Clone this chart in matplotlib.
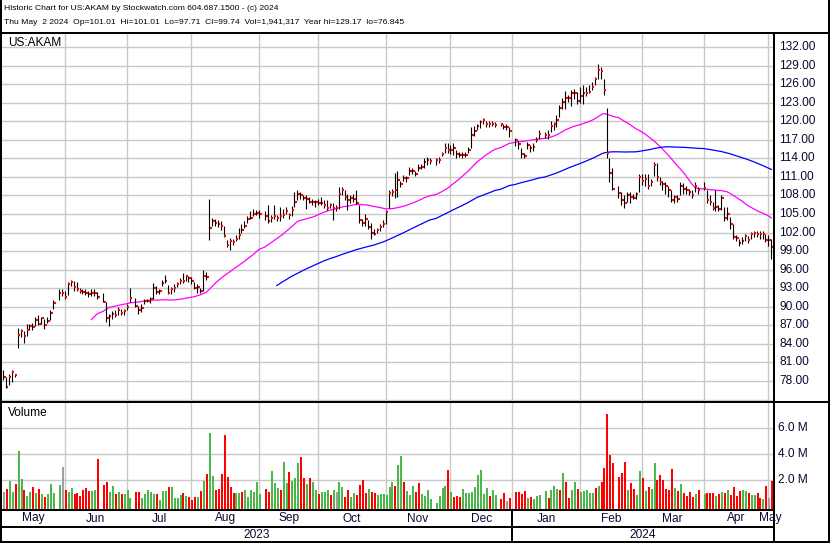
import numpy as np
import pandas as pd
import matplotlib
matplotlib.use("Agg")
import matplotlib.pyplot as plt
from matplotlib import font_manager
from matplotlib.lines import Line2D
from matplotlib.transforms import blended_transform_factory as blend

# ---------------- data ----------------
start_date = "2023-05-03"
end_date = "2024-05-02"
holidays = ["2023-05-29", "2023-06-19", "2023-07-04", "2023-09-04", "2023-11-23",
            "2023-12-25", "2024-01-01", "2024-01-15", "2024-02-19", "2024-03-29"]

close = [
    # May 2023
    78.6, 77.1, 78.6, 79.4, 78.9, 85.4, 86.0, 85.3, 86.2, 86.9, 86.7, 87.8, 87.2, 88.1, 87.1, 87.7, 89.0, 90.6, 92.2, 92.2,
    # Jun
    91.5, 93.7, 94.0, 93.2, 92.9, 92.5, 92.4, 92.2, 92.0, 92.2, 92.3, 91.5, 90.8, 88.1, 88.5, 88.9, 88.6, 89.4, 89.0, 89.3, 89.9,
    # Jul
    91.4, 90.2, 89.5, 89.8, 90.9, 91.0, 91.2, 93.1, 92.4, 92.5, 93.8, 94.1, 92.2, 92.9, 93.0, 93.7, 94.2, 94.1, 95.0, 94.6,
    # Aug
    94.2, 93.0, 93.2, 92.5, 95.0, 94.8, 102.8, 103.8, 103.6, 103.3, 103.0, 101.5, 100.0, 100.7, 100.4, 101.0, 101.6, 102.4, 103.1, 104.2, 104.4, 105.0, 105.2,
    # Sep
    105.0, 104.7, 103.9, 104.3, 104.7, 104.4, 104.7, 104.8, 105.4, 104.8, 105.6, 106.9, 108.3, 108.1, 107.6, 107.4, 107.0, 107.0, 106.9, 106.8,
    # Oct
    106.8, 106.5, 106.0, 106.4, 105.9, 106.0, 108.3, 108.8, 107.8, 107.2, 107.6, 107.5, 106.8, 104.0, 103.5, 104.2, 102.9, 102.0, 101.8, 102.4, 102.9, 103.4,
    # Nov
    105.3, 108.4, 108.5, 108.9, 110.5, 109.9, 110.8, 110.8, 112.0, 112.0, 111.4, 112.5, 112.6, 113.4, 113.8, 113.5, 113.7, 113.7, 114.7, 115.6, 115.3,
    # Dec
    115.3, 115.6, 114.7, 114.6, 114.5, 114.6, 115.3, 117.7, 118.4, 119.2, 119.8, 120.2, 119.5, 119.5, 119.6, 119.4, 119.5, 119.1, 119.0, 118.4,
    # Jan 2024
    116.9, 116.3, 114.7, 114.4, 116.2, 115.7, 115.8, 117.0, 118.0, 117.8, 117.7, 119.3, 119.5, 120.2, 122.1, 123.1, 123.8, 123.8, 124.6, 124.6, 123.2,
    # Feb
    124.1, 124.5, 124.6, 124.8, 125.6, 126.8, 128.3, 128.1, 125.0, 114.8, 111.6, 109.1, 108.4, 107.2, 106.8, 108.1, 107.8, 107.6, 108.2, 110.9,
    # Mar
    110.3, 110.7, 109.5, 110.2, 112.9, 110.9, 110.2, 109.9, 109.5, 108.9, 107.2, 107.8, 107.5, 109.6, 109.1, 108.9, 108.5, 108.0, 109.6, 108.8,
    # Apr
    109.2, 107.3, 107.0, 106.0, 106.1, 105.8, 107.6, 104.4, 105.0, 103.4, 101.3, 101.1, 100.3, 100.7, 101.5, 100.8, 101.8, 102.0, 101.8, 101.7, 101.8, 100.8,
    # May 2024
    100.8, 99.74,
]

high = [
    79.8, 78.6, 79.2, 79.7, 79.2, 86.6, 86.4, 86.1, 87.2, 87.2, 87.3, 88.3, 88.6, 88.4, 88.0, 88.3, 89.5, 91.1, 92.9, 92.9,
    92.5, 94.0, 94.3, 94.1, 94.0, 93.1, 92.9, 92.8, 92.6, 92.9, 92.9, 92.4, 92.2, 90.7, 88.9, 89.3, 89.4, 89.9, 89.6, 89.6, 90.4,
    93.1, 91.4, 90.2, 90.5, 91.2, 91.3, 91.6, 93.8, 93.4, 92.9, 94.4, 95.2, 93.5, 93.2, 93.6, 94.0, 94.6, 95.4, 95.2, 94.9,
    94.8, 94.0, 93.6, 93.1, 95.9, 95.6, 107.5, 104.4, 104.2, 104.0, 103.9, 103.0, 100.8, 101.1, 101.0, 101.6, 102.8, 103.3, 103.9, 104.6, 105.4, 105.8, 105.6,
    105.6, 105.5, 106.5, 104.8, 106.4, 104.9, 106.1, 105.8, 106.2, 105.2, 106.3, 108.6, 108.9, 108.5, 108.1, 108.0, 107.8, 107.5, 107.3, 107.4,
    107.8, 107.2, 107.2, 106.8, 106.7, 106.4, 109.4, 109.4, 108.8, 108.3, 108.0, 108.3, 108.8, 106.5, 104.2, 105.0, 104.0, 103.5, 102.5, 102.8, 103.4, 104.0,
    105.6, 108.8, 109.0, 111.7, 112.0, 110.4, 111.3, 111.2, 112.6, 112.4, 112.0, 113.0, 113.1, 114.0, 114.2, 114.0, 114.0, 114.2, 115.1, 116.4, 116.4,
    116.1, 116.4, 115.4, 115.1, 115.0, 115.0, 115.8, 119.0, 119.3, 119.6, 120.2, 120.5, 120.0, 120.0, 120.0, 119.9, 119.7, 119.6, 119.5, 119.0,
    117.3, 116.8, 115.6, 114.8, 116.6, 116.1, 116.4, 117.4, 118.5, 118.3, 118.5, 120.1, 119.9, 121.0, 122.6, 123.8, 124.9, 124.2, 125.0, 125.2, 124.8,
    125.6, 125.9, 125.6, 125.9, 126.4, 127.2, 129.17, 128.7, 126.9, 122.1, 114.0, 112.4, 109.6, 108.6, 108.0, 108.6, 108.6, 108.3, 108.6, 111.4,
    111.5, 111.5, 111.4, 110.6, 113.4, 113.3, 110.9, 110.4, 110.1, 109.5, 108.8, 108.1, 108.1, 110.1, 110.0, 109.6, 109.0, 108.8, 110.2, 109.4,
    110.2, 108.9, 108.1, 107.0, 108.9, 106.4, 108.1, 106.1, 106.2, 104.5, 103.3, 101.6, 101.0, 101.3, 101.8, 101.4, 102.1, 102.3, 102.3, 102.3, 102.2, 101.7,
    101.6, 101.01,
]

low = [
    78.2, 76.845, 77.3, 77.9, 78.6, 83.3, 85.1, 84.2, 85.3, 86.3, 86.2, 86.9, 87.0, 87.2, 86.4, 87.3, 87.8, 89.6, 91.1, 91.7,
    91.3, 91.9, 93.4, 92.6, 92.6, 92.3, 92.0, 91.9, 91.5, 91.8, 91.8, 91.3, 90.7, 87.6, 86.9, 88.0, 88.3, 88.6, 88.6, 88.6, 89.4,
    90.8, 90.0, 88.9, 89.1, 90.5, 90.7, 90.6, 91.3, 92.1, 92.1, 93.3, 93.8, 92.1, 92.1, 92.4, 93.2, 93.7, 93.9, 94.2, 94.0,
    93.6, 92.8, 92.3, 92.2, 92.5, 94.4, 100.8, 103.0, 103.1, 102.9, 102.4, 101.3, 99.6, 99.1, 100.0, 100.6, 101.0, 102.0, 102.8, 103.6, 104.2, 104.6, 104.8,
    104.3, 104.1, 103.5, 103.7, 104.2, 103.9, 103.8, 104.4, 105.0, 104.2, 104.6, 106.2, 107.2, 107.4, 107.2, 105.8, 106.7, 106.4, 106.2, 106.5,
    106.4, 106.0, 105.6, 105.9, 104.0, 105.5, 105.8, 108.0, 107.2, 105.6, 106.8, 106.9, 106.6, 103.6, 103.1, 103.1, 102.6, 101.0, 101.6, 101.9, 102.3, 102.9,
    103.3, 105.9, 107.9, 107.6, 107.7, 109.4, 110.3, 110.2, 111.3, 111.4, 111.2, 111.9, 112.2, 112.5, 112.9, 113.0, 112.9, 113.3, 114.3, 114.8, 114.8,
    114.7, 114.6, 114.1, 114.2, 114.0, 114.2, 114.9, 115.7, 117.6, 118.6, 118.9, 119.6, 119.0, 119.1, 119.2, 119.0, 119.2, 118.7, 118.6, 117.4,
    116.0, 115.5, 114.0, 114.0, 115.5, 115.1, 115.2, 116.6, 117.2, 117.3, 117.2, 118.2, 118.6, 119.0, 120.6, 121.9, 122.0, 123.1, 122.5, 123.6, 122.8,
    122.9, 122.7, 124.0, 124.5, 125.0, 125.8, 126.9, 126.9, 124.3, 114.0, 110.2, 108.9, 107.6, 106.5, 106.0, 107.0, 106.7, 107.4, 107.5, 108.6,
    109.7, 109.6, 109.1, 109.6, 111.2, 110.4, 109.7, 108.8, 108.2, 107.8, 106.9, 106.8, 107.0, 108.0, 108.3, 108.3, 108.0, 107.6, 108.6, 108.3,
    108.8, 106.8, 106.5, 105.7, 105.4, 105.4, 105.7, 103.9, 104.1, 102.6, 100.9, 100.6, 99.9, 100.2, 100.6, 100.3, 101.0, 101.3, 101.2, 100.9, 100.9, 100.5,
    99.9, 97.71,
]

# volume in millions
volume = [
    1.13, 1.3, 1.95, 1.13, 1.72, 4.26, 2.1, 1.26, 0.8, 1.1, 1.46, 1.05, 1.33, 0.95, 0.72, 0.95, 1.72, 1.03, 1.64, 3.03,
    1.26, 1.1, 1.41, 0.95, 1.03, 0.8, 1.26, 1.41, 1.2, 1.2, 1.26, 3.64, 1.64, 1.87, 1.1, 1.56, 0.95, 1.1, 0.95, 0.95, 1.26,
    0.64, 1.1, 1.1, 0.64, 0.95, 1.26, 1.1, 0.95, 0.95, 0.49, 1.18, 1.18, 1.49, 1.49, 0.64, 0.64, 0.87, 1.03, 0.8, 0.72,
    0.49, 0.72, 0.72, 1.2, 1.95, 2.49, 5.64, 2.33, 1.26, 1.33, 2.49, 5.49, 2.26, 1.49, 1.03, 1.03, 1.03, 1.1, 1.26, 0.72, 1.26, 1.1, 1.87,
    0.95, 1.33, 1.1, 2.72, 1.79, 1.41, 1.26, 3.41, 1.79, 2.64, 1.95, 2.18, 3.33, 3.79, 2.18, 1.72, 2.18, 1.87, 1.26, 0.95,
    1.1, 1.1, 1.26, 0.87, 1.26, 1.1, 1.87, 1.49, 0.72, 1.26, 0.72, 1.03, 0.87, 1.64, 2.03, 1.03, 1.33, 1.1, 1.03, 0.87, 0.95, 0.95,
    0.87, 1.49, 1.87, 1.56, 3.18, 3.87, 1.87, 1.18, 0.87, 1.56, 1.1, 1.79, 0.95, 0.8, 1.26, 0.56, 0.26, 0.8, 1.41, 1.56, 2.8,
    1.1, 0.72, 0.8, 0.72, 1.33, 1.03, 1.03, 1.1, 1.49, 2.41, 2.8, 0.95, 1.41, 0.8, 1.26, 0.87, 0.56, 1.03, 0.41, 0.64,
    1.1, 1.1, 0.95, 1.18, 0.64, 0.72, 0.56, 0.8, 0.87, 1.18, 0.64, 1.26, 1.56, 1.33, 1.26, 2.56, 1.87, 0.64, 1.26, 1.87, 1.33,
    1.1, 1.18, 1.26, 1.03, 1.03, 1.41, 1.56, 1.87, 2.95, 7.1, 3.95, 3.33, 2.26, 2.56, 3.41, 1.26, 1.79, 1.33, 0.87, 2.72,
    2.18, 1.18, 1.49, 1.33, 3.33, 2.03, 2.41, 2.03, 1.33, 1.26, 2.87, 1.41, 1.18, 1.72, 1.03, 0.8, 1.1, 0.72, 0.95, 1.26,
    0.95, 1.03, 1.03, 1.03, 0.8, 0.95, 1.1, 1.03, 1.26, 0.87, 1.49, 0.8, 1.18, 1.26, 1.18, 1.03, 0.87, 0.87, 1.03, 0.64, 0.56, 1.56,
    0.64, 1.941317,
]

# day direction: g = up, r = down, n = unchanged
direction = ("nrggrggrggrgrgrggggn"
             "rggrrrrrrggrrrggrgrgg"
             "grrgggggrgggrggggrgr"
             "rrgrgrggrrrrrrrggrggggg"
             "grrgggrggrgggrrgrggr"
             "gggrgnggrrggrrrrgrrggg"
             "gggrggrgggrrggggggggr"
             "grrrgggggggggrggrrnr"
             "rrrrgrggggrgggrgrrggr"
             "gggggrgrrrrrrrrgrrgg"
             "rgrggrrrrrrgrgrrrrgr"
             "grrrgrgrgrrrrggrggrrgr"
             "nr")

price_ticks = list(range(78, 133, 3))
volume_ticks = [2, 4, 6]
month_names = ["May", "Jun", "Jul", "Aug", "Sep", "Oct", "Nov", "Dec",
               "Jan", "Feb", "Mar", "Apr", "May"]
header1 = "Historic Chart for US:AKAM by Stockwatch.com 604.687.1500 - (c) 2024"
header2 = ("Thu May  2 2024  Op=101.01  Hi=101.01  Lo=97.71  Cl=99.74  "
           "Vol=1,941,317  Year hi=129.17  lo=76.845")

# ---------------- setup ----------------
weekdays = pd.bdate_range(start_date, end_date)
trade_days = weekdays[~weekdays.isin(pd.to_datetime(holidays))]
n = len(trade_days)
assert len(close) == n and len(high) == n and len(low) == n, (len(close), len(high), len(low), n)
assert len(volume) == n and len(direction) == n, (len(volume), len(direction))
xs = weekdays.get_indexer(trade_days).astype(float)

close_a = np.array(close)
ma30 = pd.Series(close_a).rolling(30).mean().values
ma90 = pd.Series(close_a).rolling(90).mean().values

avail = {f.name for f in font_manager.fontManager.ttflist}
SANS = "Liberation Sans" if "Liberation Sans" in avail else "DejaVu Sans"
if "Liberation Sans Narrow" in avail:
    NARROW, HSIZE = "Liberation Sans Narrow", 7.5
else:
    NARROW, HSIZE = SANS, 6.1

W, H = 830, 543
fig = plt.figure(figsize=(W / 100, H / 100), dpi=100)
fig.patch.set_facecolor("white")


def fx(px):
    return px / W


def fy(py):
    return 1 - py / H


ax_p = fig.add_axes([fx(2), fy(401), fx(773) - fx(2), fy(33) - fy(401)])
ax_v = fig.add_axes([fx(2), fy(509), fx(773) - fx(2), fy(403) - fy(509)])

XL = (-0.34, 261.55)
for ax in (ax_p, ax_v):
    ax.set_xlim(*XL)
    for s in ax.spines.values():
        s.set_visible(False)
    ax.set_xticks([])
    ax.set_yticks([])
    ax.set_facecolor("white")
ax_p.set_ylim(74.76, 134.26)
ax_v.set_ylim(-0.21, 7.95)

GRID = "#c8c8c8"
# month gridlines
months = pd.date_range("2023-06-01", "2024-05-01", freq="MS")
grid_x = []
for m in months:
    fw = weekdays[weekdays >= m][0]
    s = float(weekdays.get_loc(fw))
    s -= 0.9 if m.weekday() >= 5 else 0.05
    grid_x.append(s)
for g in grid_x:
    ax_p.axvline(g, color=GRID, lw=1.0, zorder=0)
    ax_v.axvline(g, color=GRID, lw=1.0, zorder=0)
for v in range(75, 133, 3):
    ax_p.axhline(v, color=GRID, lw=1.0, zorder=0)
for v in volume_ticks:
    ax_v.axhline(v, color=GRID, lw=1.0, zorder=0)

# moving averages
ax_p.plot(xs, ma30, color="#ff00ff", lw=0.9, zorder=2)
ax_p.plot(xs, ma90, color="#0000ff", lw=0.9, zorder=2)

# OHLC bars (high-low line + close tick)
ax_p.vlines(xs, low, high, color="black", lw=0.8, zorder=3)
ax_p.hlines(close, xs + 0.2, xs + 0.85, color="#ff0000", lw=1.5, zorder=4)

# volume
cmap = {"g": "#4cb84c", "r": "#ff0000", "n": "#a0a0a0"}
vcols = [cmap[c] for c in direction]
vol_a = np.array(volume)
ax_v.bar(xs + 0.3, vol_a + 0.21, bottom=-0.21, width=0.68, color=vcols, lw=0, zorder=2)

# ---------------- texts ----------------
LAB = "#0a0a30"
tp = blend(fig.transFigure, ax_p.transData)
for v in price_ticks:
    fig.text(fx(779), v, f"{v:.2f}", transform=tp, ha="left", va="center",
             fontsize=8.6, family=SANS, color=LAB)
tv = blend(fig.transFigure, ax_v.transData)
for v in volume_ticks:
    fig.text(fx(778), v, f"{v:.1f} M", transform=tv, ha="left", va="center",
             fontsize=8.6, family=SANS, color=LAB)

bounds = [XL[0]] + grid_x + [XL[1]]
tx = blend(ax_v.transData, fig.transFigure)
for i, name in enumerate(month_names):
    c = (bounds[i] + bounds[i + 1]) / 2
    fig.text(c, fy(518.5), name, transform=tx, ha="center", va="center",
             fontsize=8.6, family=SANS, color=LAB)
yb = grid_x[7]  # Jan 2024 boundary
fig.text((XL[0] + yb) / 2, fy(535), "2023", transform=tx, ha="center", va="center",
         fontsize=8.6, family=SANS, color=LAB)
fig.text((yb + XL[1]) / 2, fy(535), "2024", transform=tx, ha="center", va="center",
         fontsize=8.6, family=SANS, color=LAB)

fig.text(fx(8), fy(43), "US:AKAM", ha="left", va="center", fontsize=8.6, family=SANS, color="black")
fig.text(fx(8), fy(413), "Volume", ha="left", va="center", fontsize=8.6, family=SANS, color="black")
fig.text(fx(4), fy(9), header1, ha="left", va="center", fontsize=HSIZE,
         family=[NARROW, "DejaVu Sans"], color="black")
fig.text(fx(4), fy(22.5), header2, ha="left", va="center", fontsize=HSIZE,
         family=[NARROW, "DejaVu Sans"], color="black")

# ---------------- frame lines ----------------
LW = 1.44


def hline(y, x0, x1, lw=LW):
    fig.add_artist(Line2D([fx(x0), fx(x1)], [fy(y), fy(y)], color="black", lw=lw,
                          transform=fig.transFigure, solid_capstyle="butt"))


def vline(x, y0, y1, lw=LW):
    fig.add_artist(Line2D([fx(x), fx(x)], [fy(y0), fy(y1)], color="black", lw=lw,
                          transform=fig.transFigure, solid_capstyle="butt"))


vline(1, 0, 543)
vline(829, 0, 543)
hline(542, 0, 830)
hline(32.5, 0, 830)
hline(402, 0, 830)
hline(510, 0, 774.5)
hline(527, 0, 774.5)
vline(774, 32, 543)
fig.add_artist(Line2D([yb, yb], [fy(510), fy(543)], color="black", lw=LW, transform=tx,
                      solid_capstyle="butt"))

fig.savefig("out.png", dpi=100)
